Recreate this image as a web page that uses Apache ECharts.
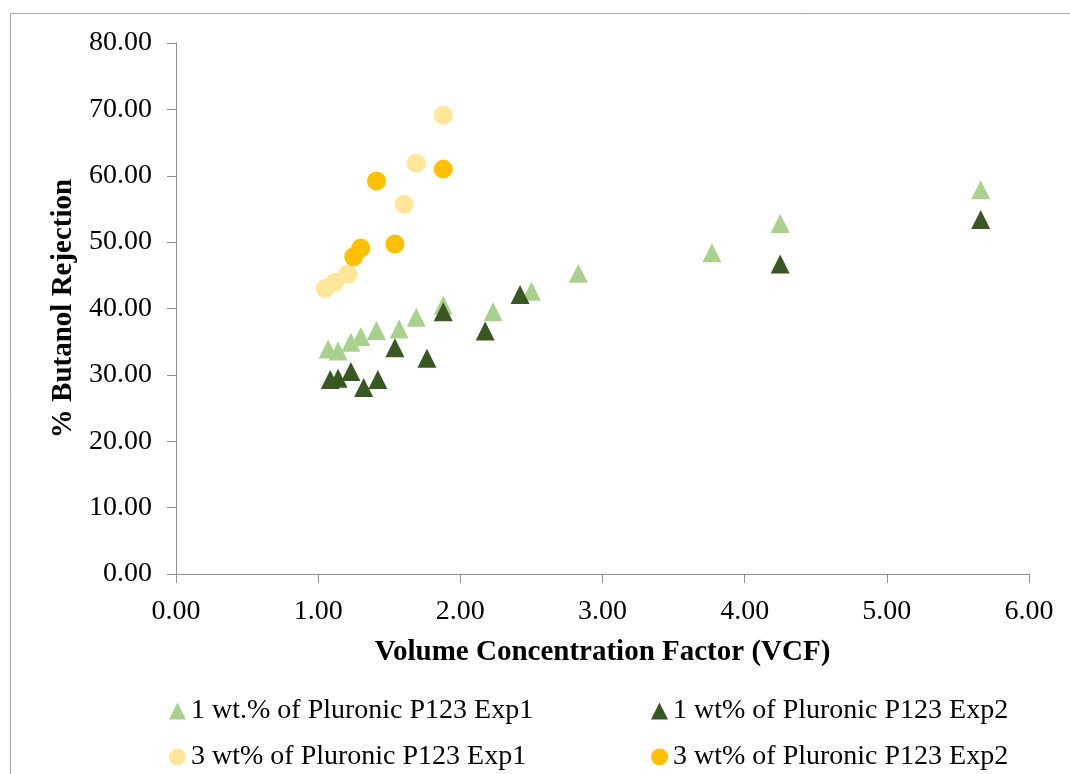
<!DOCTYPE html>
<html>
<head>
<meta charset="utf-8">
<title>% Butanol Rejection vs VCF</title>
<script src="https://cdn.jsdelivr.net/npm/echarts@6/dist/echarts.min.js"></script>
<style>
  html, body { margin: 0; padding: 0; background: #ffffff; }
  #chart { width: 1070px; height: 774px; }
</style>
</head>
<body>
<div id="chart"></div>
<script>
// [VCF, % butanol rejection]
const p123_1wt_exp1 = [
  [1.07, 33.9], [1.14, 33.6], [1.23, 34.9], [1.30, 35.8], [1.41, 36.7],
  [1.57, 36.9], [1.69, 38.7], [1.88, 40.5], [2.23, 39.5], [2.50, 42.6],
  [2.83, 45.3], [3.77, 48.4], [4.25, 52.8], [5.66, 57.9]
];
const p123_1wt_exp2 = [
  [1.085, 29.3], [1.14, 29.5], [1.23, 30.5], [1.32, 28.1], [1.42, 29.3],
  [1.54, 34.1], [1.765, 32.5], [1.88, 39.5], [2.175, 36.6], [2.42, 42.1],
  [4.25, 46.7], [5.66, 53.4]
];
const p123_3wt_exp1 = [
  [1.05, 43.0], [1.12, 44.0], [1.21, 45.2], [1.605, 55.7], [1.69, 61.9], [1.88, 69.1]
];
const p123_3wt_exp2 = [
  [1.25, 47.8], [1.30, 49.1], [1.41, 59.2], [1.54, 49.7], [1.88, 61.0]
];

const seriesNames = [
  '1 wt.% of Pluronic P123 Exp1',
  '1 wt% of Pluronic P123 Exp2',
  '3 wt% of Pluronic P123 Exp1',
  '3 wt% of Pluronic P123 Exp2'
];

const xAxisRange = { min: 0, max: 6, interval: 1 };
const yAxisRange = { min: 0, max: 80, interval: 10 };

const FONT = '"Liberation Serif", "Times New Roman", serif';
const AXIS_GREY = '#8f8f8f';

const chart = echarts.init(document.getElementById('chart'), null, { renderer: 'canvas' });

function legendAt(name, left, top) {
  return {
    data: [name],
    left: left,
    top: top,
    padding: 0,
    itemWidth: 17,
    itemHeight: 17,
    itemGap: 0,
    selectedMode: false,
    textStyle: { fontFamily: FONT, fontSize: 28, color: '#000', lineHeight: 30 }
  };
}

const option = {
  backgroundColor: '#ffffff',
  animation: false,
  graphic: [{
    type: 'rect',
    shape: { x: 10.5, y: 13.5, width: 1100, height: 800 },
    style: { fill: 'none', stroke: '#a6a6a6', lineWidth: 1 },
    silent: true
  }],
  grid: { left: 176, right: 41, top: 43, bottom: 200, containLabel: false },
  xAxis: {
    type: 'value',
    min: xAxisRange.min, max: xAxisRange.max, interval: xAxisRange.interval,
    name: 'Volume Concentration Factor (VCF)',
    nameLocation: 'middle',
    nameGap: 64,
    nameTextStyle: { fontFamily: FONT, fontSize: 29, fontWeight: 'bold', color: '#000' },
    axisLine: { show: true, lineStyle: { color: AXIS_GREY, width: 1 } },
    axisTick: { show: true, inside: false, length: 9, lineStyle: { color: AXIS_GREY } },
    axisLabel: {
      fontFamily: FONT, fontSize: 28, color: '#000', margin: 24,
      formatter: v => v.toFixed(2)
    },
    splitLine: { show: false }
  },
  yAxis: {
    type: 'value',
    min: yAxisRange.min, max: yAxisRange.max, interval: yAxisRange.interval,
    name: '% Butanol Rejection',
    nameLocation: 'middle',
    nameGap: 98,
    nameRotate: 90,
    nameTextStyle: { fontFamily: FONT, fontSize: 29, fontWeight: 'bold', color: '#000' },
    axisLine: { show: true, lineStyle: { color: AXIS_GREY, width: 1 } },
    axisTick: { show: true, inside: false, length: 9, lineStyle: { color: AXIS_GREY } },
    axisLabel: {
      fontFamily: FONT, fontSize: 28, color: '#000', margin: 24,
      formatter: v => v.toFixed(2)
    },
    splitLine: { show: false }
  },
  legend: [
    legendAt(seriesNames[0], 169, 696),
    legendAt(seriesNames[1], 651, 696),
    legendAt(seriesNames[2], 169, 742),
    legendAt(seriesNames[3], 651, 742)
  ],
  series: [
    {
      name: seriesNames[0], type: 'scatter', data: p123_1wt_exp1,
      symbol: 'triangle', symbolSize: [19, 19],
      itemStyle: { color: '#a9d18e', opacity: 1 }
    },
    {
      name: seriesNames[1], type: 'scatter', data: p123_1wt_exp2,
      symbol: 'triangle', symbolSize: [19, 19],
      itemStyle: { color: '#385723', opacity: 1 }
    },
    {
      name: seriesNames[2], type: 'scatter', data: p123_3wt_exp1,
      symbol: 'circle', symbolSize: 19,
      itemStyle: { color: '#ffe699', opacity: 1 }
    },
    {
      name: seriesNames[3], type: 'scatter', data: p123_3wt_exp2,
      symbol: 'circle', symbolSize: 19,
      itemStyle: { color: '#ffc000', opacity: 1 }
    }
  ]
};

chart.setOption(option);
</script>
</body>
</html>
